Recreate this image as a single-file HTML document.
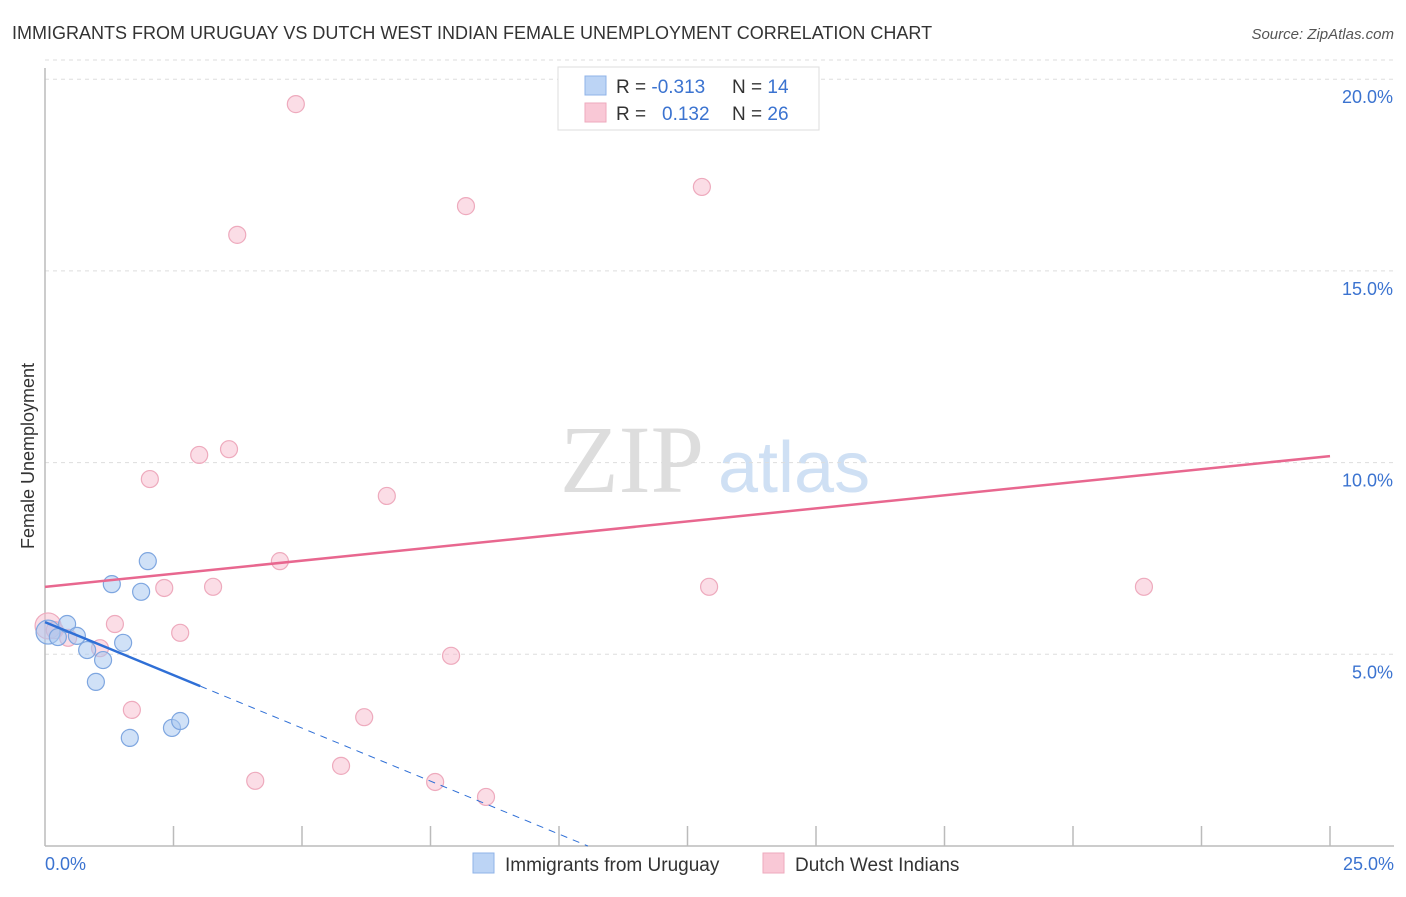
<!DOCTYPE html>
<html><head><meta charset="utf-8"><style>
body{margin:0;background:#fff;font-family:"Liberation Sans",sans-serif;}
</style></head><body>
<svg id="c" width="1406" height="892" xmlns="http://www.w3.org/2000/svg" font-family="Liberation Sans, sans-serif">
<text x="12" y="39" font-size="18" fill="#333">IMMIGRANTS FROM URUGUAY VS DUTCH WEST INDIAN FEMALE UNEMPLOYMENT CORRELATION CHART</text>
<text x="1394" y="39" font-size="15" fill="#555" text-anchor="end" font-style="italic">Source: ZipAtlas.com</text>
<text x="560" y="492" font-size="96" fill="#ddd" font-family="Liberation Serif, serif">ZIP</text>
<text x="718" y="492" font-size="72" fill="#cfe0f4">atlas</text>
<g id="grid"></g><g id="axes"></g><g id="marks"></g>
<text transform="translate(34,456) rotate(-90)" font-size="18" fill="#333" text-anchor="middle">Female Unemployment</text>
<g>
<rect x="558" y="67" width="261" height="63" fill="#fff" stroke="#ddd"/>
<rect x="585" y="76" width="21" height="19" fill="#bcd4f5" stroke="#8fb3e8"/>
<rect x="585" y="103" width="21" height="19" fill="#f9c8d6" stroke="#eeaabd"/>
<text x="616" y="93" font-size="19" fill="#333">R = <tspan fill="#3b73d0">-0.313</tspan><tspan x="732">N = </tspan><tspan fill="#3b73d0">14</tspan></text>
<text x="616" y="120" font-size="19" fill="#333">R = <tspan x="662" fill="#3b73d0">0.132</tspan><tspan x="732">N = </tspan><tspan fill="#3b73d0">26</tspan></text>
</g>
<g>
<rect x="473" y="853" width="21" height="20" fill="#bcd4f5" stroke="#8fb3e8"/>
<text x="505" y="871" font-size="19" fill="#333">Immigrants from Uruguay</text>
<rect x="763" y="853" width="21" height="20" fill="#f9c8d6" stroke="#eeaabd"/>
<text x="795" y="871" font-size="19" fill="#333">Dutch West Indians</text>
</g>
</svg>
<script>
const yTicks=[5,10,15,20];
const yTickLabels=["5.0%","10.0%","15.0%","20.0%"];
const xTickLabels=["0.0%","25.0%"];
const uruX=[0.06,0.25,0.43,0.62,0.82,0.99,1.13,1.30,1.52,1.65,1.87,2.0,2.47,2.63];
const uruY=[5.58,5.45,5.79,5.48,5.11,4.28,4.85,6.83,5.30,2.82,6.63,7.43,3.08,3.26];
const dutX=[0.06,0.19,0.45,1.07,1.36,1.69,2.04,2.32,2.63,3.0,3.27,3.58,3.74,4.09,4.57,4.88,5.76,6.21,6.65,7.59,7.9,8.19,8.58,12.78,12.92,21.38];
const dutY=[5.74,5.63,5.43,5.16,5.79,3.55,9.57,6.73,5.56,10.2,6.76,10.35,15.94,1.70,7.43,19.35,2.09,3.36,9.13,1.67,4.96,16.69,1.28,17.19,6.76,6.76];
const dutTrend=[6.76,10.17];
const uruTrend=[5.84,4.17,3.02];
const NS="http://www.w3.org/2000/svg";
const X0=45,X1=1330,Y0=846,PY=191.7/5;
const sx=v=>X0+(X1-X0)*v/25, sy=v=>Y0-v*PY;
function mk(t,a,p){const e=document.createElementNS(NS,t);for(const k in a)e.setAttribute(k,a[k]);document.getElementById(p).appendChild(e);return e;}
yTicks.forEach((t,i)=>{
 const l=mk('line',{x1:X0,x2:1394,y1:sy(t),y2:sy(t),stroke:'#ddd','stroke-dasharray':'4,4'},'grid');
 
 
 const tx=mk('text',{x:1393,y:sy(t)+24,'font-size':18,fill:'#3b73d0','text-anchor':'end'},'axes');
 tx.textContent=yTickLabels[i];
 
 
});
const tl=mk('line',{x1:X0,x2:1394,y1:sy(20.5),y2:sy(20.5),stroke:'#ddd','stroke-dasharray':'4,4'},'grid');


const ya=mk('line',{x1:X0,x2:X0,y1:68,y2:Y0,stroke:'#bbb','stroke-width':1.5},'axes');


const xa=mk('line',{x1:X0,x2:1394,y1:Y0,y2:Y0,stroke:'#bbb','stroke-width':1.5},'axes');


for(let i=1;i<=10;i++){const t=mk('line',{x1:sx(i*2.5),x2:sx(i*2.5),y1:826,y2:Y0,stroke:'#bbb','stroke-width':1.5},'axes');
 
 }
[[0,'start',45],[25,'end',1394]].forEach(([v,a,x],i)=>{const t=mk('text',{x:x,y:870,'font-size':18,fill:'#3b73d0','text-anchor':a},'axes');t.textContent=xTickLabels[i];
 
 });
dutX.forEach((x,i)=>{const c=mk('circle',{cx:sx(x),cy:sy(dutY[i]),r:i==0?13:8.5,fill:'rgba(248,187,205,0.5)',stroke:'#eeaabd','stroke-width':1.2},'marks');
 
 });
uruX.forEach((x,i)=>{const c=mk('circle',{cx:sx(x),cy:sy(uruY[i]),r:i==0?12:8.5,fill:'rgba(170,200,240,0.55)',stroke:'#7ea6e0','stroke-width':1.2},'marks');
 
 });
const pl=mk('line',{x1:sx(0),y1:sy(dutTrend[0]),x2:sx(25),y2:sy(dutTrend[1]),stroke:'#e8678f','stroke-width':2.5},'marks');


const slope=(uruTrend[1]-uruTrend[0])/uruTrend[2];
const bl=mk('line',{x1:sx(0),y1:sy(uruTrend[0]),x2:sx(uruTrend[2]),y2:sy(uruTrend[1]),stroke:'#2f6fd6','stroke-width':2.5},'marks');


const xe=-uruTrend[0]/slope;
const bd=mk('line',{x1:sx(uruTrend[2]),y1:sy(uruTrend[1]),x2:sx(xe),y2:sy(0),stroke:'#2f6fd6','stroke-width':1,'stroke-dasharray':'7,6'},'marks');


</script>
</body></html>
